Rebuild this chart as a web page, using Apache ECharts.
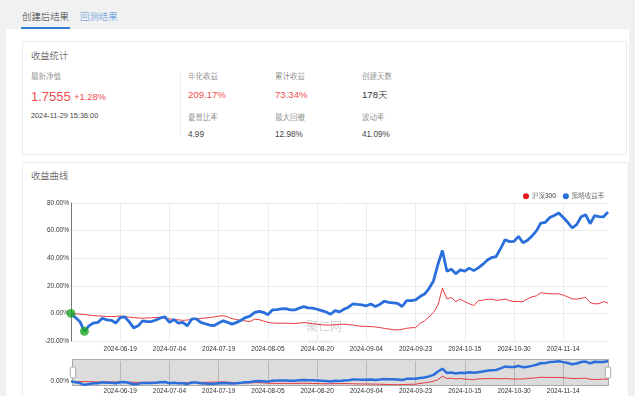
<!DOCTYPE html>
<html><head><meta charset="utf-8">
<script src="https://cdn.jsdelivr.net/npm/echarts@6/dist/echarts.min.js"></script>
<style>
html,body{margin:0;padding:0;width:635px;height:396px;overflow:hidden;background:#f1f1f1;font-family:"Liberation Sans","Noto Sans CJK SC",sans-serif;color:#333;font-weight:300;}
.abs{position:absolute;white-space:nowrap;line-height:1;}
#outer{position:absolute;left:6px;top:29px;width:623px;height:380px;background:#fff;}
.card{position:absolute;background:#fff;border:1px solid #ececec;border-radius:2px;}
#chart{position:absolute;left:0;top:0;width:635px;height:396px;}
.lbl{font-size:7.5px;color:#555;}
.red{color:#ef4d4f;}
</style></head>
<body>
<div class="abs" style="left:22px;top:12px;font-size:9.4px;color:#333;">创建后结果</div>
<div style="position:absolute;left:21px;top:27px;width:49px;height:2px;background:#2f7bd6;"></div>
<div class="abs" style="left:80px;top:12px;font-size:9.4px;color:#4a8fd8;">回测结果</div>
<div id="outer"></div>
<div class="card" style="left:22px;top:41px;width:603px;height:112px;"></div>
<div class="card" style="left:22px;top:162px;width:605px;height:260px;"></div>
<div class="abs" style="left:31px;top:52px;font-size:9.3px;color:#333;">收益统计</div>
<div class="abs lbl" style="left:31px;top:73px;">最新净值</div>
<div class="abs red" style="left:31px;top:90px;font-size:13px;">1.7555</div>
<div class="abs red" style="left:74px;top:92px;font-size:9.4px;">+1.28%</div>
<div class="abs" style="left:31px;top:112px;font-size:7.3px;color:#444;">2024-11-29 15:36:00</div>
<div style="position:absolute;left:180px;top:73px;width:1px;height:63px;background:#eee;"></div>
<div class="abs lbl" style="left:188px;top:73px;">年化收益</div>
<div class="abs red" style="left:188px;top:90px;font-size:9.6px;">209.17%</div>
<div class="abs lbl" style="left:275px;top:73px;">累计收益</div>
<div class="abs red" style="left:275px;top:90px;font-size:9.6px;">73.34%</div>
<div class="abs lbl" style="left:362px;top:73px;">创建天数</div>
<div class="abs" style="left:362px;top:90px;font-size:9.6px;color:#333;">178天</div>
<div class="abs lbl" style="left:188px;top:114px;">夏普比率</div>
<div class="abs" style="left:188px;top:131px;font-size:8.2px;color:#444;">4.99</div>
<div class="abs lbl" style="left:275px;top:114px;">最大回撤</div>
<div class="abs" style="left:275px;top:131px;font-size:8.2px;color:#444;">12.98%</div>
<div class="abs lbl" style="left:362px;top:114px;">波动率</div>
<div class="abs" style="left:362px;top:131px;font-size:8.2px;color:#444;">41.09%</div>
<div class="abs" style="left:31px;top:172px;font-size:9.3px;color:#333;">收益曲线</div>
<div id="chart"></div>
<script>
const dates = [
'2024-06-03','2024-06-04','2024-06-05','2024-06-06','2024-06-07','2024-06-11','2024-06-12','2024-06-13','2024-06-14','2024-06-17','2024-06-18','2024-06-19','2024-06-20','2024-06-21','2024-06-24','2024-06-25','2024-06-26','2024-06-27','2024-06-28',
'2024-07-01','2024-07-02','2024-07-03','2024-07-04','2024-07-05','2024-07-08','2024-07-09','2024-07-10','2024-07-11','2024-07-12','2024-07-15','2024-07-16','2024-07-17','2024-07-18','2024-07-19','2024-07-22','2024-07-23','2024-07-24','2024-07-25','2024-07-26','2024-07-29','2024-07-30','2024-07-31',
'2024-08-01','2024-08-02','2024-08-05','2024-08-06','2024-08-07','2024-08-08','2024-08-09','2024-08-12','2024-08-13','2024-08-14','2024-08-15','2024-08-16','2024-08-19','2024-08-20','2024-08-21','2024-08-22','2024-08-23','2024-08-26','2024-08-27','2024-08-28','2024-08-29','2024-08-30',
'2024-09-02','2024-09-03','2024-09-04','2024-09-05','2024-09-06','2024-09-09','2024-09-10','2024-09-11','2024-09-12','2024-09-13','2024-09-18','2024-09-19','2024-09-20','2024-09-23','2024-09-24','2024-09-25','2024-09-26','2024-09-27','2024-09-30',
'2024-10-08','2024-10-09','2024-10-10','2024-10-11','2024-10-14','2024-10-15','2024-10-16','2024-10-17','2024-10-18','2024-10-21','2024-10-22','2024-10-23','2024-10-24','2024-10-25','2024-10-28','2024-10-29','2024-10-30','2024-10-31',
'2024-11-01','2024-11-04','2024-11-05','2024-11-06','2024-11-07','2024-11-08','2024-11-11','2024-11-12','2024-11-13','2024-11-14','2024-11-15','2024-11-18','2024-11-19','2024-11-20','2024-11-21','2024-11-22','2024-11-25','2024-11-26','2024-11-27','2024-11-28'
];
const strategy = [
0,-3,-6,-13,-9,-7,-6.5,-3.5,-4.7,-5,-7,-3,-2.5,-6,-10.5,-9,-5.4,-5.9,-5.9,-4.8,
-3.3,-2.5,-6.5,-4.5,-7,-6.5,-9,-4,-4,-6.5,-7.5,-8.5,-8.8,-7,-5.4,-6.5,-7.8,-6.5,-5,-3,
-2,0.5,1.5,0.8,-0.9,2.5,2.8,3.3,3.5,2.5,2.5,3.8,4.9,4,3.8,3,2,1,-0.6,2,
1.1,3,4.5,6.9,6.5,6.2,5.5,6.8,5,6.5,8.8,8,7.6,7.2,5,9.2,9.3,9.8,12.2,14,
18,23.5,35.5,45.6,30.5,32,28.7,31.5,30.6,32.8,31,33,35.5,38.5,40.5,41.2,47,53.4,52,52.2,
55.8,51.2,53,56,59.8,65.5,66,69.5,71,72.8,69.5,66,62,64.3,70,71.5,65,70.8,70.2,70,
73.5
];
const hs300 = [
0,-0.3,-0.5,-0.8,-1.2,-1.6,-1.8,-2,-2.2,-2.3,-2.2,-1.9,-2.2,-2.7,-3,-3.3,-3.5,-3.3,-3.2,-3,
-3,-3.3,-4,-4.3,-4.7,-5,-4.8,-4.3,-4,-3.7,-3.3,-3,-2.5,-2,-1.7,-2.5,-3.8,-4.5,-5,-5.5,
-5.9,-4.2,-4.5,-5.5,-6.5,-7,-7.1,-7.1,-7.1,-7.2,-7.3,-7,-6.7,-7,-7.5,-7.8,-8.2,-8.5,-8.4,-8.2,
-8,-7.8,-8.2,-8.4,-9,-9.3,-9.4,-9.6,-9.8,-10.3,-10.8,-11.3,-11.8,-12,-11.5,-10.8,-10.4,-10.3,-7.2,-5.5,
-2.5,0.5,6,18.3,10.5,11.5,8.6,10.3,8.5,7,5.7,9.2,9.6,10.2,10.3,9.5,9.8,10.3,9.2,8.6,
8.6,8.6,10.5,12,12.7,15,14.5,14.2,14.2,14.2,13.2,12,10.5,10.3,11,11.5,7.8,7,7,8.6,
7.4
];
const markerIdx = [0, 3];
const yTicks = [-20, 0, 20, 40, 60, 80];
const seriesNames = ['沪深300', '策略收益率'];

const FONT = '"Liberation Sans","Noto Sans CJK SC",sans-serif';
const labelEvery = 11;
const showIdx = (i) => i > 0 && i % labelEvery === 0;
const chart = echarts.init(document.getElementById('chart'), null, {renderer: 'canvas'});
const pct = v => v.toFixed(2) + '%';
chart.setOption({
  animation: false,
  textStyle: {fontFamily: FONT},
  legend: {
    data: seriesNames, left: 518, top: 188, icon: 'circle', itemWidth: 6, itemHeight: 6, itemGap: 7,
    textStyle: {fontSize: 6.5, color: '#333', fontFamily: FONT, fontWeight: 300, padding: [0,0,0,-2]}
  },
  grid: [
    {left: 71, right: 27, top: 203, height: 138, containLabel: false},
    {left: 71, right: 27, top: 361, height: 24, containLabel: false}
  ],
  xAxis: [
    {type: 'category', gridIndex: 0, data: dates, boundaryGap: false,
     axisLine: {show: false}, axisTick: {show: false},
     axisLabel: {interval: (i) => showIdx(i), fontSize: 6.5, color: '#333', margin: 5, formatter: v => v},
     splitLine: {show: true, interval: (i) => showIdx(i), lineStyle: {color: '#ececec', width: 1}}},
    {type: 'category', gridIndex: 1, data: dates, boundaryGap: false,
     axisLine: {show: false}, axisTick: {show: false},
     axisLabel: {interval: (i) => showIdx(i), fontSize: 6.5, color: '#333', margin: 3},
     splitLine: {show: true, interval: (i) => showIdx(i), lineStyle: {color: '#c8c8c8', width: 1}}}
  ],
  yAxis: [
    {type: 'value', gridIndex: 0, min: yTicks[0], max: yTicks[yTicks.length-1], interval: 20,
     axisLine: {show: true, lineStyle: {color: '#777'}}, axisTick: {show: false},
     axisLabel: {fontSize: 6.5, color: '#333', margin: 2, formatter: pct},
     splitLine: {lineStyle: {color: '#ececec'}}},
    {type: 'value', gridIndex: 1, min: 'dataMin', max: 'dataMax',
     axisLine: {show: false}, axisTick: {show: false}, splitLine: {show: false},
     axisLabel: {fontSize: 6.5, color: '#333', margin: 2, formatter: pct, customValues: [0]}}
  ],
  dataZoom: [{
    type: 'slider', xAxisIndex: 0, start: 0, end: 100, left: 71, right: 27, top: 359, height: 27,
    showDataShadow: false, showDetail: false, brushSelect: false, moveHandleSize: 0,
    backgroundColor: 'rgba(0,0,0,0)', borderColor: '#aaa', fillerColor: 'rgba(150,150,150,0.33)',
    handleIcon: 'path://M2,0 h6 a2,2 0 0 1 2,2 v16 a2,2 0 0 1 -2,2 h-6 a2,2 0 0 1 -2,-2 v-16 a2,2 0 0 1 2,-2 z',
    handleSize: '40%', handleStyle: {color: '#fff', borderColor: '#aaa'}, z: 1
  }],
  graphic: [
    {type: 'text', left: 306, top: 322, z: 0, style: {text: '聚仁网', fontSize: 12, fill: 'rgba(0,0,0,0.18)', fontFamily: FONT}},
    {type: 'text', left: 309, top: 339, z: 0, style: {text: 'juqrn.com', fontSize: 5.5, fill: 'rgba(0,0,0,0.16)', fontFamily: FONT}}
  ],
  series: [
    {name: seriesNames[0], type: 'line', xAxisIndex: 0, yAxisIndex: 0, data: hs300, showSymbol: false, symbol: 'none',
     lineStyle: {color: '#e8383d', width: 1}, itemStyle: {color: '#e8191e'}, z: 3},
    {name: seriesNames[1], type: 'line', xAxisIndex: 0, yAxisIndex: 0, data: strategy, showSymbol: false, symbol: 'none',
     lineStyle: {color: '#2a6fdc', width: 2.8}, itemStyle: {color: '#2a6fdc'}, z: 4},
    {name: 'markers', type: 'scatter', xAxisIndex: 0, yAxisIndex: 0, symbolSize: 9,
     data: markerIdx.map(i => [i, strategy[i]]), itemStyle: {color: '#20a626'}, z: 6},
    {name: 'mini-hs300', type: 'line', xAxisIndex: 1, yAxisIndex: 1, data: hs300, showSymbol: false, symbol: 'none',
     lineStyle: {color: '#e8383d', width: 1}, z: 3},
    {name: 'mini-strategy', type: 'line', xAxisIndex: 1, yAxisIndex: 1, data: strategy, showSymbol: false, symbol: 'none',
     lineStyle: {color: '#2a6fdc', width: 2.5}, z: 4}
  ]
});
</script>
</body></html>
